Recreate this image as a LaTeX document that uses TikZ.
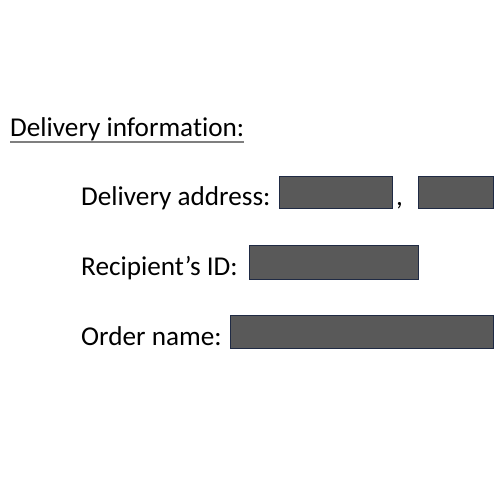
\documentclass[tikz,border=0pt]{standalone}
\usepackage{fontspec}
\setmainfont[Ligatures={TeX,NoCommon}]{Carlito}
\usepackage{tikz}
\definecolor{redact}{HTML}{595959}
\definecolor{edge}{HTML}{1F2A44}
\definecolor{ulgray}{HTML}{7F7F7F}
\begin{document}
\begin{tikzpicture}[x=1bp,y=-1bp]
    \tikzstyle{label}=[anchor=base west, inner sep=0, font=\fontsize{27.3}{32}\selectfont]
    \tikzstyle{blank}=[rectangle, draw=edge, fill=redact, line width=0.8bp, anchor=north west, inner sep=0]
\useasboundingbox (0,0) rectangle (500,500);
\fill[white] (0,0) rectangle (500,500);

\node[label] (head) at (10,137) {Delivery information:};
\draw[ulgray, line width=1.6bp] ([yshift=-5bp]head.base west) -- ([yshift=-5bp]head.base east);

\node[label] (addr) at (81,205) {Delivery address:};
\node[blank, minimum width=113bp, minimum height=32bp] (a1) at (279,176) {};
\node[label] (comma) at (396,205) {,};
\node[blank, minimum width=75bp, minimum height=32bp] (a2) at (418,176) {};

\node[label] (rid) at (81,275) {Recipient’s ID:};
\node[blank, minimum width=169bp, minimum height=34bp] (r1) at (249,245) {};

\node[label] (oname) at (81,345) {Order name:};
\node[blank, minimum width=263bp, minimum height=33bp] (o1) at (230,315) {};

\end{tikzpicture}
\end{document}
